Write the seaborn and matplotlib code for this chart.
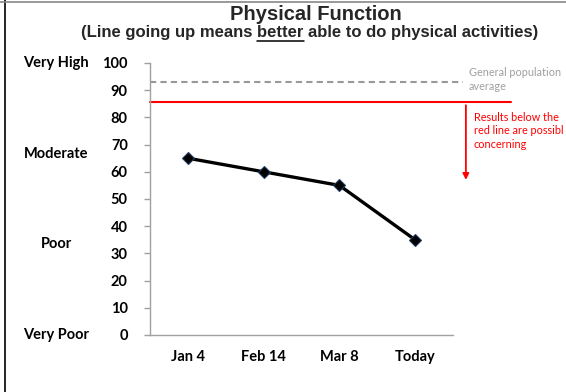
import matplotlib
matplotlib.use("Agg")
import matplotlib.pyplot as plt
import matplotlib.transforms as mtransforms
from matplotlib.lines import Line2D
import seaborn as sns
import pandas as pd

# Data
categories = ["Jan 4", "Feb 14", "Mar 8", "Today"]
scores = [65, 60, 55, 35]
y_ticks = [0, 10, 20, 30, 40, 50, 60, 70, 80, 90, 100]
level_labels = ["Very High", "Moderate", "Poor", "Very Poor"]
level_values = [100, 66.5, 33.5, 0]
population_avg = 93
concern_threshold = 85.5
arrow_end = 56

sns.set_theme(style="white")
plt.rcParams['font.family'] = ['Lato', 'DejaVu Sans']

fig = plt.figure(figsize=(5.66, 3.92), dpi=100)
W, H = 566, 392
ax = fig.add_axes([150 / W, 1 - 335 / H, (453 - 150) / W, (335 - 63) / H])

df = pd.DataFrame({"x": list(range(len(categories))), "score": scores})
sns.lineplot(data=df, x="x", y="score", ax=ax, color="black", linewidth=2.4,
             marker="D", markersize=6.5, markerfacecolor="black",
             markeredgecolor="#1f3a60", markeredgewidth=0.8)

lab_fs = 10.5
ax.set_xlim(-0.5, len(categories) - 0.5)
ax.set_ylim(0, 100)
ax.set_yticks(y_ticks)
ax.set_yticklabels([str(v) for v in y_ticks], fontsize=lab_fs, fontweight="bold", color="black")
ax.set_xticks(range(len(categories)))
ax.set_xticklabels(categories, fontsize=lab_fs, fontweight="bold", color="black")
ax.set_xticks([i - 0.5 for i in range(len(categories) + 1)], minor=True)
ax.tick_params(axis="x", which="major", length=0, pad=11)
ax.tick_params(axis="x", which="minor", length=4, direction="out", color="#a0a0a0", width=1)
ax.tick_params(axis="y", which="major", length=4, direction="out", color="#a0a0a0", width=1, pad=12)
ax.tick_params(axis="y", left=True)
ax.set_xlabel("")
ax.set_ylabel("")
for s in ["top", "right"]:
    ax.spines[s].set_visible(False)
for s in ["left", "bottom"]:
    ax.spines[s].set_color("#a0a0a0")
    ax.spines[s].set_linewidth(1)

# Reference lines
ax.plot([-0.5, 3.63], [population_avg] * 2, color="#999999", linestyle=(0, (3, 2)),
        linewidth=1.5, clip_on=False)
ax.plot([-0.5, 4.27], [concern_threshold] * 2, color="#ff0000", linewidth=1.5, clip_on=False)
ax.annotate("", xy=(3.67, arrow_end), xytext=(3.67, concern_threshold),
            arrowprops=dict(arrowstyle="-|>", color="#ff0000", lw=1.3, mutation_scale=9),
            annotation_clip=False)

trans = mtransforms.blended_transform_factory(fig.transFigure, ax.transData)
for lab, val in zip(level_labels, level_values):
    fig.text(56 / W, val, lab, transform=trans, ha="center", va="center",
             fontsize=lab_fs, fontweight="bold", color="black")

note_fs = 7.8
fig.text(469 / W, 1 - 72 / H, "General population", fontsize=note_fs, color="#a0a0a0",
         ha="left", va="center")
fig.text(469 / W, 1 - 86 / H, "average", fontsize=note_fs, color="#a0a0a0",
         ha="left", va="center")
for i, t in enumerate(["Results below the", "red line are possibl", "concerning"]):
    fig.text(474 / W, 1 - (117 + 13.5 * i) / H, t, fontsize=note_fs, color="#ff0000",
             ha="left", va="center")

fig.text(316 / W, 1 - 14 / H, "Physical Function", fontsize=14.5, fontweight="bold",
         family="Liberation Sans", ha="center", va="center")

# Subtitle with underlined word
sub_prefix = "(Line going up means "
sub_word = "better"
sub_suffix = " able to do physical activities)"
sub_props = dict(fontsize=12, fontweight="bold", family="Liberation Sans", va="center")
sub_y = 392 - 33
sub_cx = 310
renderer = fig.canvas.get_renderer()


def text_width(s):
    t = fig.text(0, 0, s, **sub_props)
    w = t.get_window_extent(renderer).width
    t.remove()
    return w


full_text = sub_prefix + sub_word + sub_suffix
fig.text(sub_cx / W, sub_y / H, full_text, ha="center", **sub_props)
full_w = text_width(full_text)
x0 = sub_cx - full_w / 2
u_start = x0 + text_width(sub_prefix + "b") - text_width("b")
u_end = x0 + text_width(sub_prefix + sub_word)
fig.add_artist(Line2D([u_start / W, u_end / W], [(sub_y - 7.5) / H] * 2,
                      transform=fig.transFigure, color="black", lw=1.1))

# Border
fig.add_artist(Line2D([5 / W, 5 / W], [0, 1], transform=fig.transFigure, color="black", lw=1.2))
fig.add_artist(Line2D([0, 1], [1 - 2 / H, 1 - 2 / H], transform=fig.transFigure, color="#888888", lw=1.2))

fig.savefig("out.png", dpi=100)
